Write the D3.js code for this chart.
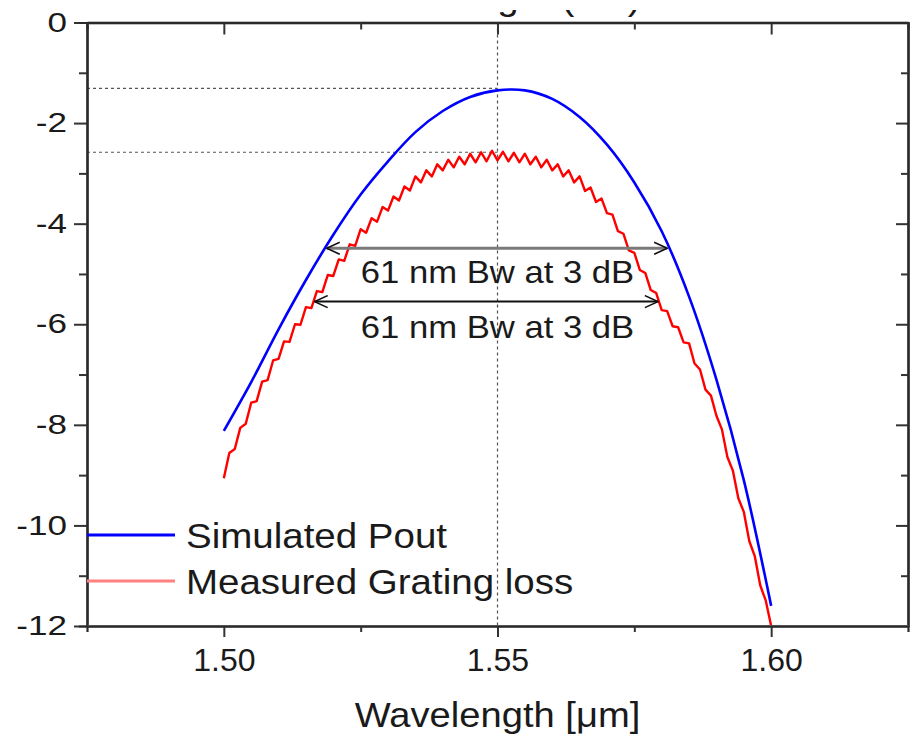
<!DOCTYPE html>
<html>
<head>
<meta charset="utf-8">
<script src="https://cdn.jsdelivr.net/npm/d3@7"></script>
<style>
  body { margin: 0; background: #fff; }
  svg { font-family: "Liberation Sans", Arial, sans-serif; }
</style>
</head>
<body>
<svg id="drawing_region"></svg>
<script>
// simulated output power (dB) vs wavelength (um)
const simWavelength = [1.500, 1.505, 1.510, 1.515, 1.520, 1.525, 1.530, 1.535, 1.540, 1.545, 1.550,
                       1.555, 1.560, 1.565, 1.570, 1.575, 1.580, 1.585, 1.590, 1.595, 1.600];
const simPout = [-8.12, -7.15, -6.10, -5.12, -4.22, -3.42, -2.76, -2.18, -1.76, -1.48, -1.35,
                 -1.35, -1.52, -1.88, -2.43, -3.18, -4.15, -5.45, -7.10, -9.10, -11.6];

// measured grating loss (dB), one reading per nm from 1.500 to 1.600 um
const measStart = 1.500, measStep = 0.001;
const measLoss = [
  -9.06, -8.56, -8.48, -8.06, -7.98, -7.56, -7.53, -7.14, -7.11, -6.72,
  -6.69, -6.34, -6.35, -6.00, -6.01, -5.66, -5.68, -5.34, -5.36, -5.02,
  -5.04, -4.71, -4.74, -4.41, -4.44, -4.11, -4.18, -3.89, -3.96, -3.67,
  -3.74, -3.46, -3.54, -3.26, -3.34, -3.06, -3.18, -2.94, -3.06, -2.82,
  -2.94, -2.73, -2.88, -2.67, -2.82, -2.61, -2.78, -2.58, -2.76, -2.55,
  -2.74, -2.57, -2.76, -2.59, -2.78, -2.61, -2.82, -2.67, -2.88, -2.73,
  -2.94, -2.82, -3.06, -2.94, -3.18, -3.06, -3.35, -3.28, -3.57, -3.50,
  -3.79, -3.82, -4.15, -4.20, -4.53, -4.58, -4.92, -4.98, -5.32, -5.38,
  -5.72, -5.74, -6.04, -6.06, -6.36, -6.38, -6.78, -6.90, -7.30, -7.42,
  -7.82, -8.09, -8.64, -8.91, -9.46, -9.73, -10.31, -10.61, -11.19, -11.49,
  -12.0
];

const seriesNames = ['Simulated Pout', 'Measured Grating loss'];
const seriesColors = ['#0000ff', '#ff0000'];
const legendColors = ['#0000ff', '#ff8080'];

const xTicks = [1.50, 1.55, 1.60];
const xMinorTicks = [1.525, 1.575];
const yTicks = [0, -2, -4, -6, -8, -10, -12];
const yMinorTicks = [-1, -3, -5, -7, -9, -11];

// guide lines: peak levels and centre wavelength
const peakLevels = [-1.31, -2.58];
const centreWavelength = 1.55;

// 3 dB bandwidth arrows
const bwLabels = ['61 nm Bw at 3 dB', '61 nm Bw at 3 dB'];
const bwStart = [1.5188, 1.5166];
const bwEnd = [1.5810, 1.5793];
const bwLevel = [-4.49, -5.55];
const bwLabelLevel = [-5.18, -6.27];

class SpectrumPlot {

    constructor( config ) {
        this.config = config;
        this.init();
    }

    init() {
        let self = this;
        const c = self.config;

        self.svg = d3.select( c.parent )
            .attr('width', c.width)
            .attr('height', c.height);

        self.inner_width = c.width - c.margin.left - c.margin.right;
        self.inner_height = c.height - c.margin.top - c.margin.bottom;

        self.chart = self.svg.append('g')
            .attr('transform', `translate(${c.margin.left}, ${c.margin.top})`);

        const defs = self.svg.append('defs');

        defs.append('clipPath')
            .attr('id', 'plot-clip')
            .append('rect')
            .attr('width', self.inner_width)
            .attr('height', self.inner_height);

        // the top title is only partly visible in the original figure
        defs.append('clipPath')
            .attr('id', 'title-clip')
            .append('rect')
            .attr('x', 0).attr('y', 10)
            .attr('width', c.width).attr('height', 12);

        defs.append('marker')
            .attr('id', 'chevron')
            .attr('viewBox', '-15 -7 16 14')
            .attr('refX', 0).attr('refY', 0)
            .attr('markerWidth', 16).attr('markerHeight', 14)
            .attr('markerUnits', 'userSpaceOnUse')
            .attr('orient', 'auto-start-reverse')
            .append('path')
            .attr('d', 'M-13,-6 L0,0 L-13,6')
            .attr('fill', 'none')
            .attr('stroke', '#111')
            .attr('stroke-width', 1.6);

        self.xscale = d3.scaleLinear().domain([1.475, 1.625]).range([0, self.inner_width]);
        self.yscale = d3.scaleLinear().domain([-12, 0]).range([self.inner_height, 0]);
    }

    text( g, x, y, str, size, sx, anchor ) {
        return g.append('text')
            .attr('transform', `translate(${x},${y}) scale(${sx},1)`)
            .attr('text-anchor', anchor)
            .attr('fill', '#1a1a1a')
            .style('font-size', size + 'px')
            .text(str);
    }

    render() {
        let self = this;
        const x = self.xscale, y = self.yscale;
        const W = self.inner_width, H = self.inner_height;

        // dashed guides
        const guides = self.chart.append('g')
            .attr('stroke', '#555')
            .attr('stroke-width', 1.2)
            .attr('stroke-dasharray', '3,3');
        guides.selectAll('.hguide')
            .data(peakLevels)
            .join('line')
            .attr('x1', 0).attr('x2', x(centreWavelength))
            .attr('y1', d => y(d)).attr('y2', d => y(d));
        guides.append('line')
            .attr('x1', x(centreWavelength)).attr('x2', x(centreWavelength))
            .attr('y1', 0).attr('y2', H);

        // curves
        const plot = self.chart.append('g').attr('clip-path', 'url(#plot-clip)');

        const simLine = d3.line()
            .x((d, i) => x(simWavelength[i]))
            .y(d => y(d))
            .curve(d3.curveCatmullRom);
        const measLine = d3.line()
            .x((d, i) => x(measStart + i * measStep))
            .y(d => y(d));

        plot.append('path')
            .attr('d', measLine(measLoss))
            .attr('fill', 'none')
            .attr('stroke', seriesColors[1])
            .attr('stroke-width', 2.4)
            .attr('stroke-linejoin', 'round');

        plot.append('path')
            .attr('d', simLine(simPout))
            .attr('fill', 'none')
            .attr('stroke', seriesColors[0])
            .attr('stroke-width', 2.6);

        // bandwidth arrows
        bwLabels.forEach((label, i) => {
            self.chart.append('line')
                .attr('x1', x(bwStart[i])).attr('x2', x(bwEnd[i]))
                .attr('y1', y(bwLevel[i])).attr('y2', y(bwLevel[i]))
                .attr('stroke', i === 0 ? '#7a7a7a' : '#111')
                .attr('stroke-width', i === 0 ? 3 : 2)
                .attr('marker-start', 'url(#chevron)')
                .attr('marker-end', 'url(#chevron)');
            self.text(self.chart, x(centreWavelength), y(bwLabelLevel[i]), label, 31.5, 1.1, 'middle');
        });

        // axes
        self.chart.append('g')
            .call(d3.axisLeft(y).tickValues(yTicks).tickSize(13).tickSizeOuter(0).tickFormat(d => String(d)))
            .call(g => g.selectAll('text')
                .attr('x', 0)
                .attr('transform', 'translate(-20,0) scale(1.3,1)')
                .attr('fill', '#1a1a1a')
                .style('font-size', '27px'));
        self.chart.append('g')
            .call(d3.axisLeft(y).tickValues(yMinorTicks).tickSize(8).tickFormat(''));

        self.chart.append('g')
            .attr('transform', `translate(${W},0)`)
            .call(d3.axisRight(y).tickValues(yTicks).tickSize(-12).tickSizeOuter(0).tickFormat(''));
        self.chart.append('g')
            .attr('transform', `translate(${W},0)`)
            .call(d3.axisRight(y).tickValues(yMinorTicks).tickSize(-7).tickFormat(''));

        self.chart.append('g')
            .attr('transform', `translate(0,${H})`)
            .attr('class', 'hframe')
            .call(d3.axisBottom(x).tickValues(xTicks).tickSize(11).tickPadding(11).tickSizeOuter(0).tickFormat(d3.format('.2f')))
            .call(g => g.selectAll('text')
                .attr('fill', '#1a1a1a')
                .style('font-size', '32px'));
        self.chart.append('g')
            .attr('transform', `translate(0,${H})`)
            .call(d3.axisBottom(x).tickValues(xMinorTicks).tickSize(6).tickFormat(''));

        self.chart.append('g')
            .attr('class', 'hframe')
            .call(d3.axisTop(x).tickValues(xTicks).tickSize(-12).tickSizeOuter(0).tickFormat(''));
        self.chart.append('g')
            .call(d3.axisTop(x).tickValues(xMinorTicks).tickSize(-7).tickFormat(''));

        self.chart.selectAll('.tick line').attr('stroke', '#333').attr('stroke-width', 2);
        self.chart.selectAll('.domain').attr('stroke', '#2a2a2a').attr('stroke-width', 2.2);
        self.chart.selectAll('.hframe .domain').attr('stroke', '#7d7d7d').attr('stroke-width', 3);

        // axis titles
        const ml = self.config.margin.left;
        self.text(self.svg, ml + x(centreWavelength), 727, 'Wavelength [μm]', 35, 1.09, 'middle');
        self.text(self.svg.append('g').attr('clip-path', 'url(#title-clip)'),
            ml + x(1.5495), 10, 'Wavelength (nm)', 35, 1.1, 'middle');

        // legend
        const legend = self.svg.append('g');
        seriesNames.forEach((name, i) => {
            const ly = 535 + i * 46;
            legend.append('line')
                .attr('x1', ml).attr('x2', 175)
                .attr('y1', ly).attr('y2', ly)
                .attr('stroke', legendColors[i])
                .attr('stroke-width', 3);
            self.text(legend, 186, ly + 12.5, name, 35, 1.1, 'start');
        });
    }
}

const plot = new SpectrumPlot({
    parent: '#drawing_region',
    width: 911,
    height: 739,
    margin: {top: 22.5, right: 3, bottom: 113, left: 87}
});
plot.render();
</script>
</body>
</html>
